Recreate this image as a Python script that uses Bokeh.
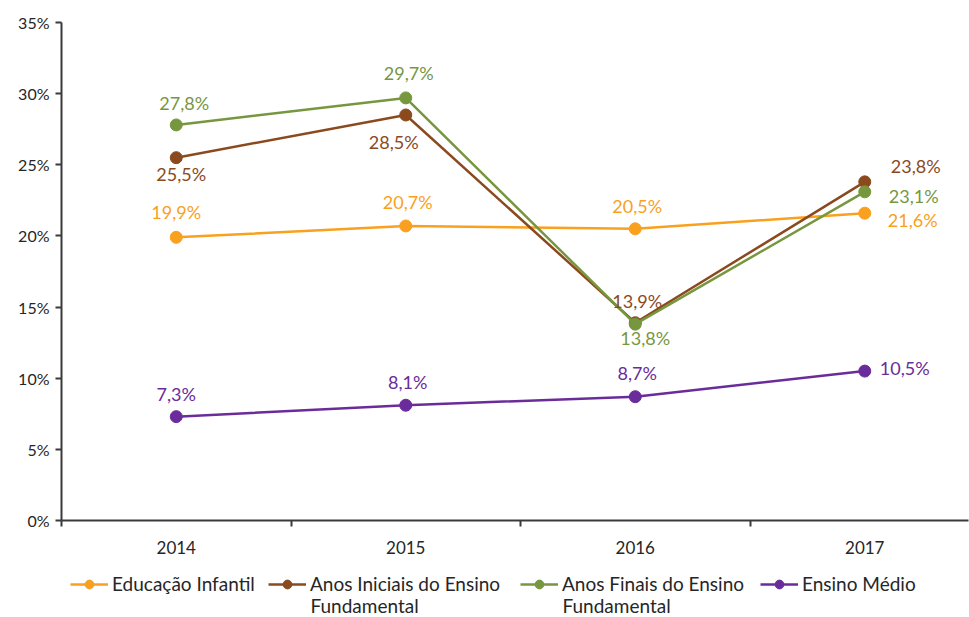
from bokeh.plotting import figure
from bokeh.models import (ColumnDataSource, Range1d, FixedTicker, LabelSet, Legend, LegendItem, Label)
from bokeh.layouts import column
from bokeh.core.properties import value
from bokeh.embed import file_html
from bokeh.resources import INLINE

years = ["2014", "2015", "2016", "2017"]
y_ticks = [0, 5, 10, 15, 20, 25, 30, 35]

series_names = ["Educação Infantil", "Anos Iniciais do Ensino Fundamental",
                "Anos Finais do Ensino Fundamental", "Ensino Médio"]
# legend text split over two lines as in the original
legend_line1 = ["Educação Infantil", "Anos Iniciais do Ensino", "Anos Finais do Ensino", "Ensino Médio"]
legend_line2 = ["", "Fundamental", "Fundamental", ""]

educacao_infantil = [19.9, 20.7, 20.5, 21.6]
anos_iniciais = [25.5, 28.5, 13.9, 23.8]
anos_finais = [27.8, 29.7, 13.8, 23.1]
ensino_medio = [7.3, 8.1, 8.7, 10.5]

colors = ["#F9A11E", "#8B4A1E", "#77973F", "#6A2C9A"]
# label offsets in screen pixels (dx right, dy down)
label_dx = [[0, 2, 2, 48], [5, -12, 2, 51], [8, 3, 10, 49], [0, 2, 2, 40]]
label_dy = [[-25, -24, -23, 7], [16, 27, -22, -16], [-22, -25, 14, 4], [-23, -23, -24, -3]]
# legend item left edges (page px)
legend_x = [70, 268, 520, 760]

FONT = "Lato"
LEFT = 61

p = figure(width=969, height=560, output_backend="svg", toolbar_location=None,
           x_range=Range1d(-0.5, 3.452), y_range=Range1d(0, 35),
           min_border_left=LEFT, min_border_right=1, min_border_top=22, min_border_bottom=40)
p.outline_line_color = None
p.xgrid.visible = False
p.ygrid.visible = False

xs = list(range(len(years)))
all_series = [educacao_infantil, anos_iniciais, anos_finais, ensino_medio]
for i, vals in enumerate(all_series):
    src = ColumnDataSource(dict(
        x=xs, y=vals,
        label=[("%.1f%%" % v).replace(".", ",") for v in vals],
        dx=label_dx[i], dy=[-d for d in label_dy[i]]))
    p.line("x", "y", source=src, line_color=colors[i], line_width=2.5)
    p.scatter("x", "y", source=src, size=12, fill_color=colors[i], line_color=colors[i])
    p.add_layout(LabelSet(x="x", y="y", text="label", source=src,
                          x_offset="dx", y_offset="dy", text_align="center",
                          text_baseline="middle", text_color=colors[i],
                          text_font=value(FONT), text_font_size="18px"))

xa = p.xaxis[0]
xa.ticker = FixedTicker(ticks=xs, minor_ticks=[-0.5, 0.5, 1.5, 2.5, 3.5])
xa.major_label_overrides = {i: y for i, y in enumerate(years)}
xa.major_tick_line_color = None
xa.minor_tick_in = 0
xa.minor_tick_out = 6
xa.minor_tick_line_color = "#3a3a3a"
xa.minor_tick_line_width = 2
xa.axis_line_color = "#3a3a3a"
xa.axis_line_width = 2
xa.major_label_standoff = 14
xa.major_label_text_font = FONT
xa.major_label_text_font_size = "17px"
xa.major_label_text_color = "#262626"

ya = p.yaxis[0]
ya.ticker = FixedTicker(ticks=y_ticks)
ya.major_label_overrides = {t: "%d%%" % t for t in y_ticks}
ya.major_tick_in = 0
ya.major_tick_out = 6
ya.minor_tick_line_color = None
ya.major_tick_line_color = "#3a3a3a"
ya.major_tick_line_width = 2
ya.axis_line_color = "#3a3a3a"
ya.axis_line_width = 2
ya.major_label_standoff = 6
ya.major_label_text_font = FONT
ya.major_label_text_font_size = "16px"
ya.major_label_text_color = "#262626"

# legend-only figure below the chart (its series are drawn outside its view)
LH = 57
lf = figure(width=969, height=LH, output_backend="svg", toolbar_location=None,
            x_axis_type=None, y_axis_type=None,
            x_range=Range1d(100, 101), y_range=Range1d(100, 101),
            min_border_left=LEFT, min_border_right=1, min_border_top=0, min_border_bottom=0)
lf.grid.visible = False
lf.outline_line_color = None
for i, vals in enumerate(all_series):
    r1 = lf.line(x=xs, y=vals, line_color=colors[i], line_width=2.5)
    r2 = lf.scatter(x=xs, y=vals, size=12, fill_color=colors[i], line_color=colors[i])
    lg = Legend(items=[LegendItem(label=legend_line1[i], renderers=[r1, r2])],
                location=(legend_x[i] - LEFT, LH - 35),
                border_line_color=None, background_fill_alpha=0,
                label_text_font=FONT, label_text_font_size="19px",
                label_text_color="#262626", glyph_width=38, glyph_height=22,
                label_standoff=4, padding=0, margin=0)
    lf.add_layout(lg, "center")
    if legend_line2[i]:
        lf.add_layout(Label(x=legend_x[i] - LEFT + 42, y=LH - 45, x_units="screen", y_units="screen",
                            text=legend_line2[i], text_baseline="middle",
                            text_font=FONT, text_font_size="19px", text_color="#262626"))

layout = column(p, lf, spacing=0)
open("out.html", "w").write(file_html(layout, INLINE))
